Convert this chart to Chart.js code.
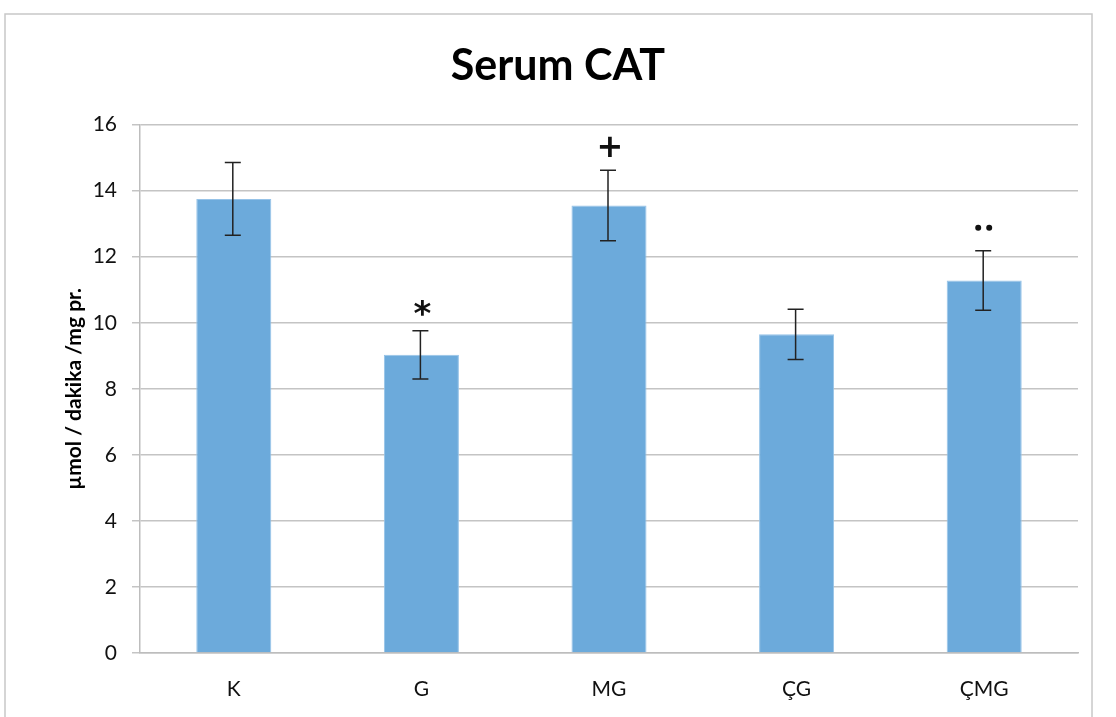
<!DOCTYPE html>
<html>
<head>
<meta charset="utf-8">
<script src="https://cdn.jsdelivr.net/npm/chart.js@4"></script>
<style>
  html, body { margin: 0; padding: 0; background: #fff; }
  #wrap { width: 1116px; height: 717px; position: relative; }
</style>
</head>
<body>
<div id="wrap"><canvas id="myChart" width="1116" height="717"></canvas></div>
<script>
const groups = ["K", "G", "MG", "ÇG", "ÇMG"]
const means = [13.75, 9.03, 13.55, 9.65, 11.28]
const errs = [1.1, 0.73, 1.07, 0.76, 0.9]
const marks = ["", "*", "+", "", "••"]
const yTicks = [0, 2, 4, 6, 8, 10, 12, 14, 16]

const FONT = "Lato, 'Open Sans', sans-serif"

// error bars + significance marks
const extras = {
  id: "extras",
  afterDatasetsDraw(chart) {
    const ctx = chart.ctx
    const y = chart.scales.y
    const meta = chart.getDatasetMeta(0)
    ctx.save()
    ctx.strokeStyle = "#222"
    ctx.lineWidth = 1.5
    for (let i = 0; i < means.length; i++) {
      const x = meta.data[i].x - 1
      const hi = y.getPixelForValue(means[i] + errs[i])
      const lo = y.getPixelForValue(means[i] - errs[i])
      ctx.beginPath()
      ctx.moveTo(x, hi); ctx.lineTo(x, lo)
      ctx.moveTo(x - 8, hi); ctx.lineTo(x + 8, hi)
      ctx.moveTo(x - 8, lo); ctx.lineTo(x + 8, lo)
      ctx.stroke()
      if (marks[i]) {
        ctx.fillStyle = "#111"
        ctx.textAlign = "center"
        ctx.textBaseline = "alphabetic"
        if (marks[i] === "*") {
          ctx.font = "bold 34px 'DejaVu Sans'"
          ctx.fillText("*", x + 2, hi - 6)
        } else if (marks[i] === "+") {
          ctx.font = "bold 32px 'DejaVu Sans'"
          ctx.fillText("+", x + 2, hi - 13)
        } else {
          ctx.beginPath()
          ctx.arc(x - 5, hi - 23, 3, 0, Math.PI * 2)
          ctx.arc(x + 6, hi - 23, 3, 0, Math.PI * 2)
          ctx.fill()
        }
      }
    }
    ctx.restore()
  },
  beforeDraw(chart) {
    const ctx = chart.ctx
    ctx.save()
    ctx.fillStyle = "#fff"
    ctx.fillRect(0, 0, chart.width, chart.height)
    ctx.strokeStyle = "#c8c8c8"
    ctx.lineWidth = 1.5
    ctx.strokeRect(5, 14, 1087, 720)
    ctx.restore()
  },
}

const data = {
  labels: groups,
  datasets: [
    {
      label: "Serum CAT",
      data: means,
      backgroundColor: "rgb(108, 170, 219)",
      borderColor: "rgb(150, 195, 232)",
      borderWidth: 1,
      categoryPercentage: 1,
      barPercentage: 0.4,
    },
  ],
}

const config = {
  type: "bar",
  data: data,
  options: {
    responsive: false,
    animation: false,
    layout: { padding: { left: 38, right: 38, top: 14, bottom: 0 } },
    plugins: {
      legend: { display: false },
      tooltip: { enabled: false },
      title: {
        display: true,
        text: "Serum CAT",
        color: "#000",
        font: { family: FONT, size: 43, weight: "bold" },
        padding: { top: 26, bottom: 33 },
      },
    },
    scales: {
      x: {
        grid: { display: false, drawTicks: false },
        border: { color: "#bdbdbd", width: 1.5 },
        ticks: { color: "#111", padding: 24, font: { family: FONT, size: 21 } },
        afterFit(scale) { scale.height = 64 },
      },
      y: {
        min: 0,
        max: 16,
        afterBuildTicks(scale) { scale.ticks = yTicks.map(v => ({ value: v })) },
        grid: { color: "#c4c4c4", lineWidth: 1.5, tickLength: 8 },
        border: { color: "#bdbdbd", width: 1.5 },
        ticks: { color: "#111", padding: 15, font: { family: FONT, size: 21 } },
        title: {
          display: true,
          text: "µmol / dakika /mg pr.",
          color: "#000",
          font: { family: FONT, size: 21, weight: "bold" },
          padding: { top: 24, bottom: 0 },
        },
        afterFit(scale) { scale.width = 102 },
      },
    },
  },
  plugins: [extras],
}

const myChart = new Chart(document.getElementById("myChart"), config)
</script>
</body>
</html>
